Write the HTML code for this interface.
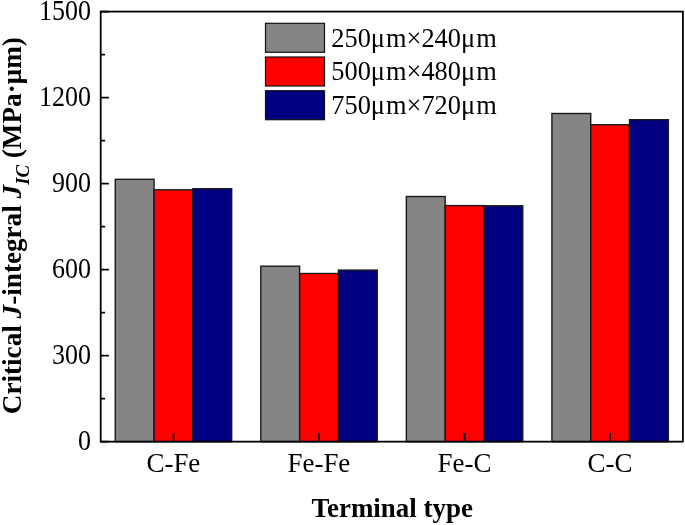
<!DOCTYPE html>
<html><head><meta charset="utf-8"><title>Critical J-integral</title>
<style>html,body{margin:0;padding:0;background:#fff}svg{display:block}text{font-family:"Liberation Serif","Times New Roman",serif;fill:#000}</style></head><body>
<svg width="685" height="525" viewBox="0 0 685 525">
<rect width="685" height="525" fill="#fff"/>
<rect x="115.25" y="179.30" width="38.81" height="262.35" fill="#858585" stroke="#1a1a1a" stroke-width="1.4"/>
<rect x="154.07" y="189.80" width="38.81" height="251.85" fill="#ff0000" stroke="#1a1a1a" stroke-width="1.4"/>
<rect x="192.88" y="188.70" width="38.81" height="252.95" fill="#000080" stroke="#1a1a1a" stroke-width="1.4"/>
<rect x="260.80" y="266.20" width="38.81" height="175.45" fill="#858585" stroke="#1a1a1a" stroke-width="1.4"/>
<rect x="299.62" y="273.50" width="38.81" height="168.15" fill="#ff0000" stroke="#1a1a1a" stroke-width="1.4"/>
<rect x="338.43" y="270.10" width="38.81" height="171.55" fill="#000080" stroke="#1a1a1a" stroke-width="1.4"/>
<rect x="406.35" y="196.50" width="38.81" height="245.15" fill="#858585" stroke="#1a1a1a" stroke-width="1.4"/>
<rect x="445.17" y="205.60" width="38.81" height="236.05" fill="#ff0000" stroke="#1a1a1a" stroke-width="1.4"/>
<rect x="483.98" y="205.80" width="38.81" height="235.85" fill="#000080" stroke="#1a1a1a" stroke-width="1.4"/>
<rect x="551.90" y="113.50" width="38.81" height="328.15" fill="#858585" stroke="#1a1a1a" stroke-width="1.4"/>
<rect x="590.72" y="124.70" width="38.81" height="316.95" fill="#ff0000" stroke="#1a1a1a" stroke-width="1.4"/>
<rect x="629.53" y="119.70" width="38.81" height="321.95" fill="#000080" stroke="#1a1a1a" stroke-width="1.4"/>
<rect x="100.7" y="11.6" width="582.1999999999999" height="430.04999999999995" fill="none" stroke="#000" stroke-width="1.8"/>
<line x1="100.7" x2="108.9" y1="441.65" y2="441.65" stroke="#000" stroke-width="1.7"/>
<text transform="translate(91.00,450.35) scale(1.0,1.105)" font-size="26" text-anchor="end">0</text>
<line x1="100.7" x2="105.10000000000001" y1="398.64" y2="398.64" stroke="#000" stroke-width="1.7"/>
<line x1="100.7" x2="108.9" y1="355.64" y2="355.64" stroke="#000" stroke-width="1.7"/>
<text transform="translate(91.00,364.34) scale(1.0,1.105)" font-size="26" text-anchor="end">300</text>
<line x1="100.7" x2="105.10000000000001" y1="312.63" y2="312.63" stroke="#000" stroke-width="1.7"/>
<line x1="100.7" x2="108.9" y1="269.63" y2="269.63" stroke="#000" stroke-width="1.7"/>
<text transform="translate(91.00,278.33) scale(1.0,1.105)" font-size="26" text-anchor="end">600</text>
<line x1="100.7" x2="105.10000000000001" y1="226.63" y2="226.63" stroke="#000" stroke-width="1.7"/>
<line x1="100.7" x2="108.9" y1="183.62" y2="183.62" stroke="#000" stroke-width="1.7"/>
<text transform="translate(91.00,192.32) scale(1.0,1.105)" font-size="26" text-anchor="end">900</text>
<line x1="100.7" x2="105.10000000000001" y1="140.62" y2="140.62" stroke="#000" stroke-width="1.7"/>
<line x1="100.7" x2="108.9" y1="97.61" y2="97.61" stroke="#000" stroke-width="1.7"/>
<text transform="translate(91.00,106.31) scale(1.0,1.105)" font-size="26" text-anchor="end">1200</text>
<line x1="100.7" x2="105.10000000000001" y1="54.61" y2="54.61" stroke="#000" stroke-width="1.7"/>
<line x1="100.7" x2="108.9" y1="11.60" y2="11.60" stroke="#000" stroke-width="1.7"/>
<text transform="translate(91.00,20.30) scale(1.0,1.105)" font-size="26" text-anchor="end">1500</text>
<line x1="173.47" x2="173.47" y1="441.65" y2="433.15" stroke="#000" stroke-width="1.7"/>
<text transform="translate(173.38,471.70) scale(1.035,1.06)" font-size="26" text-anchor="middle">C-Fe</text>
<line x1="319.02" x2="319.02" y1="441.65" y2="433.15" stroke="#000" stroke-width="1.7"/>
<text transform="translate(318.92,471.70) scale(1.035,1.06)" font-size="26" text-anchor="middle">Fe-Fe</text>
<line x1="464.57" x2="464.57" y1="441.65" y2="433.15" stroke="#000" stroke-width="1.7"/>
<text transform="translate(464.47,471.70) scale(1.035,1.06)" font-size="26" text-anchor="middle">Fe-C</text>
<line x1="610.12" x2="610.12" y1="441.65" y2="433.15" stroke="#000" stroke-width="1.7"/>
<text transform="translate(610.02,471.70) scale(1.035,1.06)" font-size="26" text-anchor="middle">C-C</text>
<rect x="265.5" y="23.30" width="59" height="29" fill="#858585" stroke="#111" stroke-width="1.2"/>
<text transform="translate(331.30,46.60) scale(1.015,1.05)" font-size="26" text-anchor="start">250μ<tspan dx="1">m</tspan>×240μ<tspan dx="1">m</tspan></text>
<rect x="265.5" y="57.00" width="59" height="29" fill="#ff0000" stroke="#111" stroke-width="1.2"/>
<text transform="translate(331.30,80.40) scale(1.015,1.05)" font-size="26" text-anchor="start">500μ<tspan dx="1">m</tspan>×480μ<tspan dx="1">m</tspan></text>
<rect x="265.5" y="90.70" width="59" height="29" fill="#000080" stroke="#111" stroke-width="1.2"/>
<text transform="translate(331.30,114.20) scale(1.015,1.05)" font-size="26" text-anchor="start">750μ<tspan dx="1">m</tspan>×720μ<tspan dx="1">m</tspan></text>
<text transform="translate(392.20,516.80) scale(1.036,1.02)" font-size="26" text-anchor="middle" font-weight="bold">Terminal type</text>
<text transform="translate(21.20,225.70) rotate(-90) scale(1.045,1.06)" font-size="26" text-anchor="middle" font-weight="bold">Critical <tspan font-style="italic">J</tspan>-integral <tspan font-style="italic">J</tspan><tspan font-style="italic" font-size="18" dy="7">IC</tspan><tspan dy="-7"> (MPa·μm)</tspan></text>
</svg></body></html>
